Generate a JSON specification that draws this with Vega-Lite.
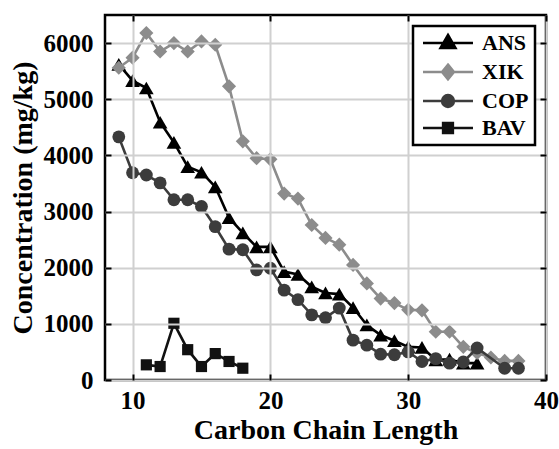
{
  "$schema": "https://vega.github.io/schema/vega-lite/v6.json",
  "width": 441,
  "height": 365,
  "autosize": "none",
  "padding": {"left": 105, "top": 15, "right": 13, "bottom": 69},
  "background": "white",
  "data": {"values": [
    {"s":"ANS","c":9,"v":5620},{"s":"ANS","c":10,"v":5330},{"s":"ANS","c":11,"v":5200},{"s":"ANS","c":12,"v":4590},{"s":"ANS","c":13,"v":4230},{"s":"ANS","c":14,"v":3800},{"s":"ANS","c":15,"v":3700},{"s":"ANS","c":16,"v":3440},{"s":"ANS","c":17,"v":2890},{"s":"ANS","c":18,"v":2620},{"s":"ANS","c":19,"v":2370},{"s":"ANS","c":20,"v":2370},{"s":"ANS","c":21,"v":1930},{"s":"ANS","c":22,"v":1880},{"s":"ANS","c":23,"v":1660},{"s":"ANS","c":24,"v":1550},{"s":"ANS","c":25,"v":1530},{"s":"ANS","c":26,"v":1290},{"s":"ANS","c":27,"v":980},{"s":"ANS","c":28,"v":800},{"s":"ANS","c":29,"v":700},{"s":"ANS","c":30,"v":590},{"s":"ANS","c":31,"v":580},{"s":"ANS","c":32,"v":360},{"s":"ANS","c":33,"v":370},{"s":"ANS","c":34,"v":300},{"s":"ANS","c":35,"v":300},
    {"s":"XIK","c":9,"v":5560},{"s":"XIK","c":10,"v":5740},{"s":"XIK","c":11,"v":6180},{"s":"XIK","c":12,"v":5850},{"s":"XIK","c":13,"v":6000},{"s":"XIK","c":14,"v":5850},{"s":"XIK","c":15,"v":6030},{"s":"XIK","c":16,"v":5970},{"s":"XIK","c":17,"v":5230},{"s":"XIK","c":18,"v":4250},{"s":"XIK","c":19,"v":3950},{"s":"XIK","c":20,"v":3930},{"s":"XIK","c":21,"v":3320},{"s":"XIK","c":22,"v":3230},{"s":"XIK","c":23,"v":2760},{"s":"XIK","c":24,"v":2530},{"s":"XIK","c":25,"v":2410},{"s":"XIK","c":26,"v":2050},{"s":"XIK","c":27,"v":1720},{"s":"XIK","c":28,"v":1450},{"s":"XIK","c":29,"v":1370},{"s":"XIK","c":30,"v":1250},{"s":"XIK","c":31,"v":1240},{"s":"XIK","c":32,"v":860},{"s":"XIK","c":33,"v":860},{"s":"XIK","c":34,"v":590},{"s":"XIK","c":35,"v":480},{"s":"XIK","c":36,"v":400},{"s":"XIK","c":37,"v":340},{"s":"XIK","c":38,"v":340},
    {"s":"COP","c":9,"v":4330},{"s":"COP","c":10,"v":3690},{"s":"COP","c":11,"v":3650},{"s":"COP","c":12,"v":3510},{"s":"COP","c":13,"v":3210},{"s":"COP","c":14,"v":3210},{"s":"COP","c":15,"v":3090},{"s":"COP","c":16,"v":2730},{"s":"COP","c":17,"v":2330},{"s":"COP","c":18,"v":2320},{"s":"COP","c":19,"v":1960},{"s":"COP","c":20,"v":1990},{"s":"COP","c":21,"v":1600},{"s":"COP","c":22,"v":1430},{"s":"COP","c":23,"v":1160},{"s":"COP","c":24,"v":1110},{"s":"COP","c":25,"v":1280},{"s":"COP","c":26,"v":710},{"s":"COP","c":27,"v":620},{"s":"COP","c":28,"v":460},{"s":"COP","c":29,"v":450},{"s":"COP","c":30,"v":500},{"s":"COP","c":31,"v":330},{"s":"COP","c":32,"v":380},{"s":"COP","c":33,"v":300},{"s":"COP","c":34,"v":320},{"s":"COP","c":35,"v":570},{"s":"COP","c":37,"v":210},{"s":"COP","c":38,"v":210},
    {"s":"BAV","c":11,"v":270},{"s":"BAV","c":12,"v":240},{"s":"BAV","c":13,"v":1010},{"s":"BAV","c":14,"v":540},{"s":"BAV","c":15,"v":240},{"s":"BAV","c":16,"v":470},{"s":"BAV","c":17,"v":330},{"s":"BAV","c":18,"v":210}
  ]},
  "resolve": {"axis": {"x": "independent", "y": "independent"}},
  "layer": [
    {
      "mark": {"type": "point", "opacity": 0},
      "encoding": {
        "x": {"field": "c", "type": "quantitative", "scale": {"domain": [8, 40], "nice": false, "zero": false},
              "axis": {"values": [10, 20, 30, 40], "title": "Carbon Chain Length", "grid": true, "orient": "bottom", "offset": -6, "labelFlush": false,
                       "ticks": true, "tickSize": 6, "tickColor": "black", "tickWidth": 2, "tickOpacity": 1,
                       "labelPadding": 8, "labelFontSize": 25, "labelFont": "Liberation Serif", "labelFontWeight": "bold", "labelColor": "black",
                       "titleFontSize": 28, "titleFont": "Liberation Serif", "titleFontWeight": "bold", "titleColor": "black", "titlePadding": 3,
                       "domain": false, "gridColor": "#d0d0d0", "gridWidth": 2, "gridOpacity": 1, "zindex": 1}},
        "y": {"field": "v", "type": "quantitative", "scale": {"domain": [0, 6500], "nice": false},
              "axis": {"values": [0, 1000, 2000, 3000, 4000, 5000, 6000], "format": "d", "title": "Concentration (mg/kg)", "grid": true, "orient": "left", "offset": -6, "labelFlush": false,
                       "ticks": true, "tickSize": 6, "tickColor": "black", "tickWidth": 2, "tickOpacity": 1,
                       "labelPadding": 12, "labelFontSize": 25, "labelFont": "Liberation Serif", "labelFontWeight": "bold", "labelColor": "black",
                       "titleFontSize": 28, "titleFont": "Liberation Serif", "titleFontWeight": "bold", "titleColor": "black", "titlePadding": 6,
                       "domain": false, "gridColor": "#d0d0d0", "gridWidth": 2, "gridOpacity": 1, "zindex": 1}}
      }
    },
    {
      "transform": [{"filter": "datum.s == 'ANS'"}],
      "mark": {"type": "line", "color": "#000000", "strokeWidth": 2.6, "point": {"shape": "triangle-up", "filled": true, "size": 215, "opacity": 1, "color": "#000000"}},
      "encoding": {"x": {"field": "c", "type": "quantitative", "axis": null}, "y": {"field": "v", "type": "quantitative", "axis": null}}
    },
    {
      "transform": [{"filter": "datum.s == 'XIK'"}],
      "mark": {"type": "line", "color": "#8c8c8c", "strokeWidth": 2.6, "point": {"shape": "diamond", "filled": true, "size": 200, "opacity": 1, "color": "#8c8c8c"}},
      "encoding": {"x": {"field": "c", "type": "quantitative", "axis": null}, "y": {"field": "v", "type": "quantitative", "axis": null}}
    },
    {
      "transform": [{"filter": "datum.s == 'COP'"}],
      "mark": {"type": "line", "color": "#3c3c3c", "strokeWidth": 2.6, "point": {"shape": "circle", "filled": true, "size": 165, "opacity": 1, "color": "#3c3c3c"}},
      "encoding": {"x": {"field": "c", "type": "quantitative", "axis": null}, "y": {"field": "v", "type": "quantitative", "axis": null}}
    },
    {
      "transform": [{"filter": "datum.s == 'BAV'"}],
      "mark": {"type": "line", "color": "#111111", "strokeWidth": 2.6, "point": {"shape": "square", "filled": true, "size": 125, "opacity": 1, "color": "#111111"}},
      "encoding": {"x": {"field": "c", "type": "quantitative", "axis": null}, "y": {"field": "v", "type": "quantitative", "axis": null}}
    },
    {
      "mark": {"type": "point", "opacity": 0},
      "encoding": {
        "x": {"field": "c", "type": "quantitative", "axis": {"orient": "top", "offset": -6, "values": [10, 20, 30, 40], "labels": false, "title": null, "grid": false, "domain": false,
                       "ticks": true, "tickSize": 6, "tickColor": "black", "tickWidth": 2, "tickOpacity": 1, "zindex": 1}},
        "y": {"field": "v", "type": "quantitative", "axis": {"orient": "right", "offset": -6, "values": [0, 1000, 2000, 3000, 4000, 5000, 6000], "labels": false, "title": null, "grid": false, "domain": false,
                       "ticks": true, "tickSize": 6, "tickColor": "black", "tickWidth": 2, "tickOpacity": 1, "zindex": 1}}
      }
    },
    {
      "mark": {"type": "point", "filled": true, "opacity": 0, "strokeWidth": 2.5},
      "encoding": {
        "x": {"field": "c", "type": "quantitative", "axis": null},
        "y": {"field": "v", "type": "quantitative", "axis": null},
        "color": {"field": "s", "type": "nominal",
                  "legend": {"title": null, "orient": "top-right", "offset": 11, "padding": 6, "symbolOpacity": 1, "direction": "vertical",
                             "labelFont": "Liberation Serif", "labelFontWeight": "bold", "labelFontSize": 22, "labelColor": "black", "labelOpacity": 1,
                             "symbolSize": 196, "symbolStrokeWidth": 2.5, "labelOffset": 41, "rowPadding": 5,
                             "strokeColor": "black", "fillColor": "white", "zindex": 2,
                             "encode": {"symbols": {"update": {"fill": {"scale": "color", "field": "value"}, "fillOpacity": {"value": 1}}}}},
                  "scale": {"domain": ["ANS", "XIK", "COP", "BAV"], "range": ["#000000", "#8c8c8c", "#3c3c3c", "#111111"]}},
        "stroke": {"field": "s", "type": "nominal",
                   "scale": {"domain": ["ANS", "XIK", "COP", "BAV"], "range": ["#000000", "#8c8c8c", "#3c3c3c", "#111111"]}},
        "shape": {"field": "s", "type": "nominal",
                  "scale": {"domain": ["ANS", "XIK", "COP", "BAV"], "range": [
                    "M-1,0H6.14M2.57,-1.15L3.64,0.7L1.5,0.7Z",
                    "M-1,0H6.14M2.57,-1.05L3.42,0L2.57,1.05L1.72,0Z",
                    "M-1,0H6.14M3.42,0C3.42,0.469 3.039,0.85 2.57,0.85C2.101,0.85 1.72,0.469 1.72,0C1.72,-0.469 2.101,-0.85 2.57,-0.85C3.039,-0.85 3.42,-0.469 3.42,0Z",
                    "M-1,0H6.14M1.87,-0.7H3.27V0.7H1.87Z"]}}
      }
    }
  ],
  "config": {
    "font": "Liberation Serif",
    "view": {"stroke": "black", "strokeWidth": 2.5},
    "axis": {"disable": false},
    "legend": {"disable": false, "strokeWidth": 2.5}
  }
}
